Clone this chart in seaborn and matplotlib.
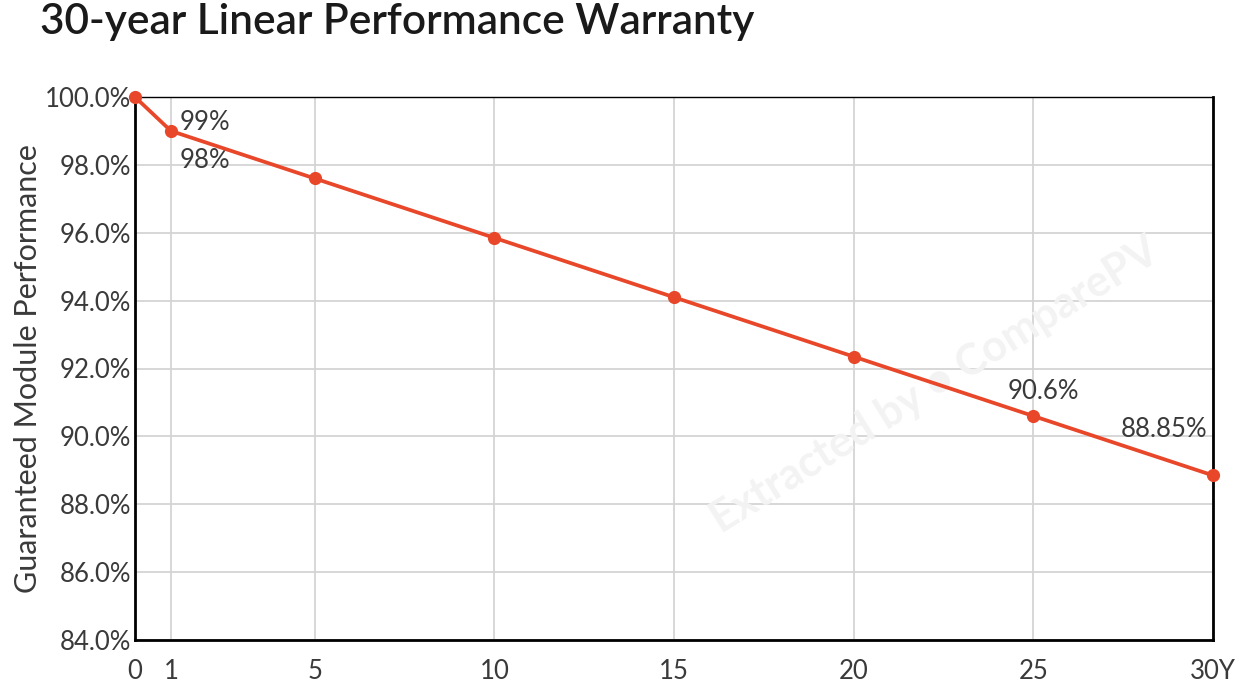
import matplotlib
matplotlib.use("Agg")
import matplotlib.pyplot as plt
import seaborn as sns
import pandas as pd
from matplotlib.ticker import FuncFormatter

years = [0, 1, 5, 10, 15, 20, 25, 30]
performance = [100.0, 99.0, 97.6, 95.85, 94.1, 92.35, 90.6, 88.85]
x_ticks = [0, 1, 5, 10, 15, 20, 25, 30]
x_tick_labels = ["0", "1", "5", "10", "15", "20", "25", "30Y"]
y_ticks = [84, 86, 88, 90, 92, 94, 96, 98, 100]
annotations = ["99%", "98%", "90.6%", "88.85%"]

sns.set_theme(style="white")
plt.rcParams['font.family'] = ['Lato', 'DejaVu Sans']

df = pd.DataFrame({"year": years, "perf": performance})

fig = plt.figure(figsize=(12.45, 6.82), dpi=100)
ax = fig.add_axes([135/1245, 1 - 640/682, (1213-135)/1245, (640-97)/682])

line_color = "#e8472a"
sns.lineplot(data=df, x="year", y="perf", ax=ax, color=line_color, linewidth=2.7,
             marker="o", markersize=9.5, markeredgewidth=0, zorder=5, clip_on=False)

ax.set_xlim(0, 30)
ax.set_ylim(84, 100)
ax.set_xticks(x_ticks)
ax.set_xticklabels(x_tick_labels)
ax.set_yticks(y_ticks)
ax.yaxis.set_major_formatter(FuncFormatter(lambda v, p: f"{v:.1f}%"))

ax.grid(True, color="#d4d4d4", linewidth=1.3)
ax.set_axisbelow(True)
for s in ["left", "bottom", "right"]:
    ax.spines[s].set_color("black")
    ax.spines[s].set_linewidth(2.0)
ax.spines["top"].set_color("black")
ax.spines["top"].set_linewidth(1.0)

txt_color = "#3a3a3a"
ax.tick_params(axis="both", length=0, labelsize=18.5, colors=txt_color)
ax.tick_params(axis="x", pad=14)
ax.tick_params(axis="y", pad=3)

ax.set_xlabel("")
ax.set_ylabel("Guaranteed Module Performance", fontsize=22, color=txt_color, labelpad=2)

txt_kw = dict(textcoords="offset points", fontsize=18.5, color=txt_color)
ax.annotate(annotations[0], (years[1], performance[1]), xytext=(6.5, 6), ha="left", va="center", **txt_kw)
ax.annotate(annotations[1], (years[1], performance[1]), xytext=(6.5, -21), ha="left", va="center", **txt_kw)
ax.annotate(annotations[2], (years[6], performance[6]), xytext=(7, 18), ha="center", va="center", **txt_kw)
ax.annotate(annotations[3], (years[7], performance[7]), xytext=(-4, 33), ha="right", va="center", **txt_kw)

ax.text(935/1245, 1 - 385/682, "Extracted by \u25cf ComparePV", rotation=32, transform=fig.transFigure,
        ha="center", va="center", fontsize=31, fontweight="bold", color="#f3f3f3", zorder=1)

fig.text(40/1245, 1 - 22/682, "30-year Linear Performance Warranty", fontsize=30.5,
         fontweight="semibold", color="#1a1a1a", ha="left", va="center")

fig.savefig("out.png", dpi=100)
